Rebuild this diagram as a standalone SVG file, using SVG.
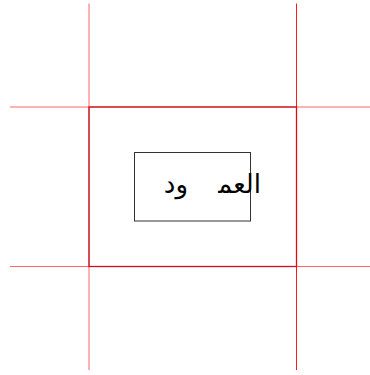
<svg xmlns="http://www.w3.org/2000/svg" width="370" height="375" viewBox="0 0 370 375">
<style>
.guide{stroke:#ff0000;stroke-opacity:0.6;stroke-width:1;fill:none}
.guide2{stroke:#ff0000;stroke-opacity:0.9;stroke-width:1;fill:none}
.frame{stroke:#a8202e;stroke-width:1.3;fill:none}
.box{stroke:#333333;stroke-width:1;fill:none}
.lbl{font-family:"DejaVu Sans",sans-serif;font-size:26px;fill:#000000}
</style>
<rect width="370" height="375" fill="#ffffff"/>
<g id="frame">
<rect class="frame" x="89" y="107" width="207.5" height="159.5"/>
</g>
<g id="guides">
<line class="guide" x1="10" y1="107" x2="370" y2="107"/>
<line class="guide" x1="10" y1="266.5" x2="370" y2="266.5"/>
<line class="guide" x1="89" y1="3.5" x2="89" y2="370"/>
<line class="guide2" x1="296.5" y1="3.5" x2="296.5" y2="370"/>
</g>
<g id="node">
<rect class="box" x="134.5" y="152.5" width="116" height="68.5"/>
<text class="lbl" x="261" y="193" text-anchor="end">العم&#x200D;</text>
<text class="lbl" x="188" y="193" text-anchor="end">ود</text>
</g>
</svg>
